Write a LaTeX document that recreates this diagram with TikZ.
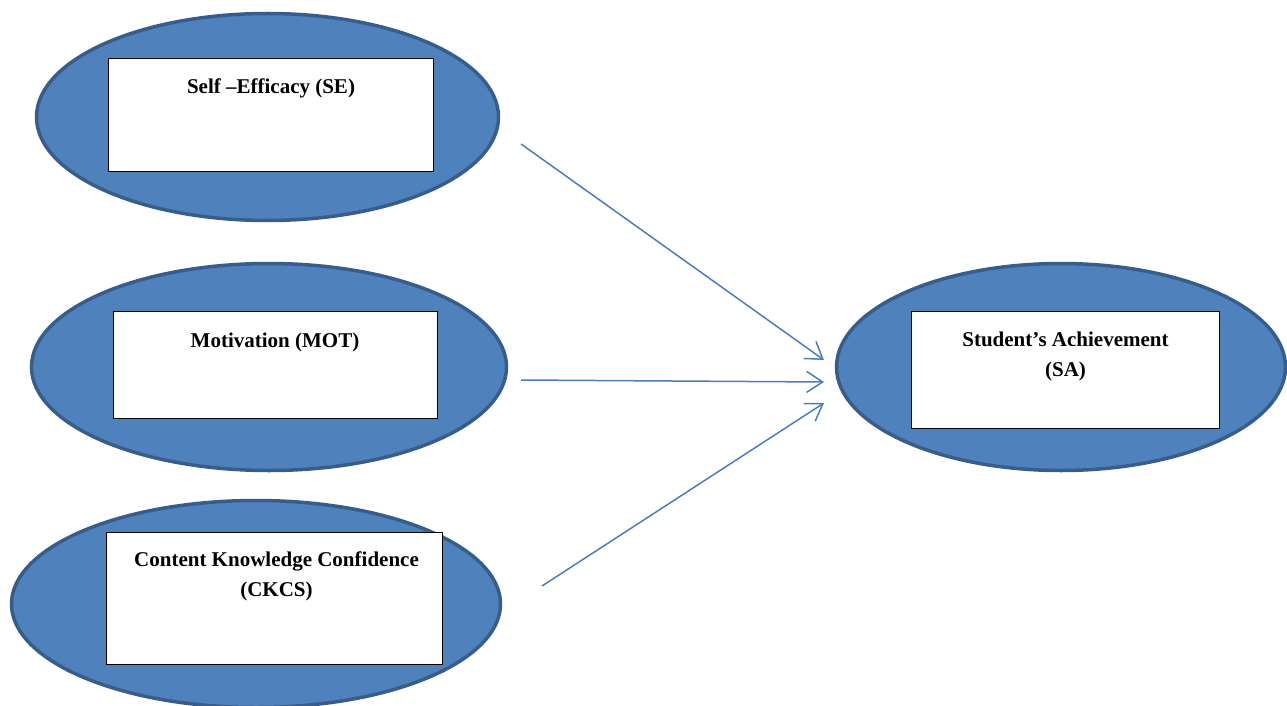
\documentclass[tikz,border=0pt]{standalone}
\usepackage{fontspec}
\setmainfont{Liberation Serif}
\usetikzlibrary{arrows.meta,shapes.geometric}
\definecolor{efill}{HTML}{4F81BD}
\definecolor{eline}{HTML}{385D8A}
\definecolor{arr}{HTML}{4A7EBB}
\tikzset{
  oval/.style={ellipse, draw=eline, fill=efill, line width=3.5pt, inner sep=0pt},
  box/.style={rectangle, draw=black, fill=white, line width=1pt, inner sep=0pt},
  lbl/.style={font=\fontsize{21}{29.5}\selectfont\bfseries, align=center, anchor=base, inner sep=0pt},
  conn/.style={draw=arr, line width=1.5pt, -{Straight Barb[length=16pt,width=21pt,line width=1.5pt]}}
}
\begin{document}
\begin{tikzpicture}[x=1pt,y=-1pt]
\useasboundingbox (0,0) rectangle (1287,706);
\clip (0,0) rectangle (1287,706);
\node[oval, minimum width=462pt, minimum height=207pt] (seo) at (267.5,117) {};
\node[oval, minimum width=475pt, minimum height=207pt] (moto) at (269,367) {};
\node[oval, minimum width=489pt, minimum height=207pt] (ckcso) at (256,604) {};
\node[oval, minimum width=449pt, minimum height=207pt] (sao) at (1061,367) {};
\node[box, minimum width=325pt, minimum height=112pt] (seb) at (270.5,115) {};
\node[box, minimum width=324pt, minimum height=107pt] (motb) at (275,364.5) {};
\node[box, minimum width=336pt, minimum height=132pt] (ckcsb) at (274,598) {};
\node[box, minimum width=308pt, minimum height=117pt] (sab) at (1065,369.5) {};
\node[lbl] (set) at (271,94) {Self –Efficacy (SE)};
\node[lbl] (mott) at (275,347) {Motivation (MOT)};
\node[lbl] (ckcst) at (276.5,596) {Content Knowledge Confidence\\(CKCS)};
\node[lbl] (sat) at (1065.5,376) {Student’s Achievement\\(SA)};
\coordinate (s1) at (521,144);
\coordinate (e1) at (824,360);
\coordinate (s2) at (521,380);
\coordinate (e2) at (824,382);
\coordinate (s3) at (542,586);
\coordinate (e3) at (824,403);
\draw[conn] (s1) -- (e1);
\draw[conn] (s2) -- (e2);
\draw[conn] (s3) -- (e3);
\end{tikzpicture}
\end{document}
